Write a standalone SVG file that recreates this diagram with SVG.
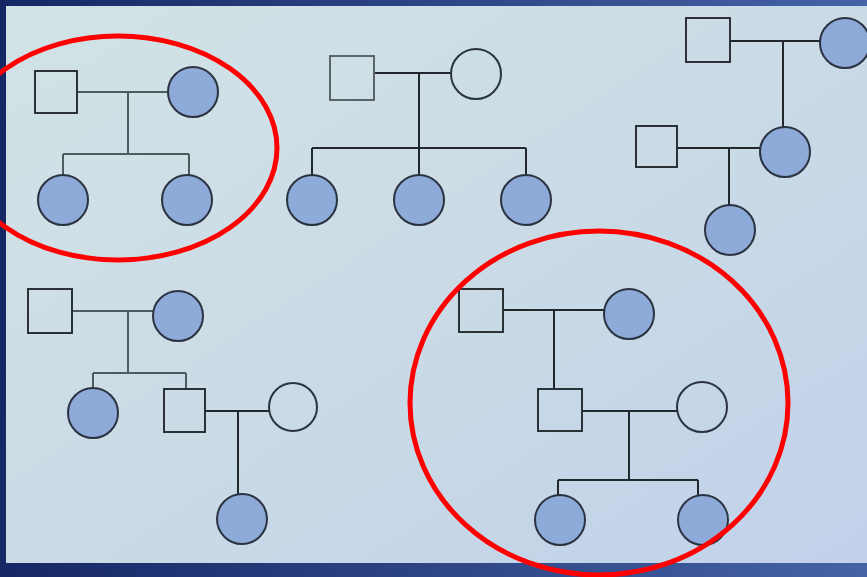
<svg xmlns="http://www.w3.org/2000/svg" width="867" height="577" viewBox="0 0 867 577">
  <defs>
    <linearGradient id="frame" x1="0" y1="0" x2="1" y2="0">
      <stop offset="0" stop-color="#162765"/>
      <stop offset="1" stop-color="#4563a6"/>
    </linearGradient>
    <linearGradient id="bg" x1="0" y1="0" x2="1" y2="1">
      <stop offset="0" stop-color="#d2e3e6"/>
      <stop offset="0.5" stop-color="#cadbe6"/>
      <stop offset="1" stop-color="#c1d1ea"/>
    </linearGradient>
    <style>
      .m{fill:none;stroke:#2a3238;stroke-width:2}
      .g{fill:none;stroke:#5c6668;stroke-width:2}
      .a{fill:#8eaad9;stroke:#2b3340;stroke-width:2}
      .u{fill:none;stroke:#2b3340;stroke-width:2}
      .l{fill:none;stroke:#20282e;stroke-width:2}
      .lg{fill:none;stroke:#4f5a5e;stroke-width:2}
      .r{fill:none;stroke:#ff0000;stroke-width:5}
    </style>
  </defs>
  <rect x="0" y="0" width="867" height="577" fill="url(#frame)"/>
  <rect x="6" y="6" width="861" height="557" fill="url(#bg)"/>

  <g id="connectors">
    <!-- pedigree 1 -->
    <path class="lg" d="M77 92H168M128 92V154M63 154H189M63 154V175M189 154V175"/>
    <!-- pedigree 2 -->
    <path class="l" d="M374 73H451M419 73V148M312 148H526M312 148V175M526 148V175M419 148V175"/>
    <!-- pedigree 3 -->
    <path class="l" d="M730 41H820M783 41V127M677 148H760M729 148V205"/>
    <!-- pedigree 4 -->
    <path class="lg" d="M72 311H153M128 311V373M93 373H186M93 373V388M186 373V389"/>
    <path class="l" d="M205 411H269M238 411V494"/>
    <!-- pedigree 5 -->
    <path class="l" d="M503 310H604M554 310V389M582 411H677M629 411V480M558 480H698M558 480V495M698 480V495"/>
  </g>

  <g id="p1-father"><rect class="m" x="35" y="71" width="42" height="42"/></g>
  <g id="p1-mother"><circle class="a" cx="193" cy="92" r="25"/></g>
  <g id="p1-child1"><circle class="a" cx="63" cy="200" r="25"/></g>
  <g id="p1-child2"><circle class="a" cx="187" cy="200" r="25"/></g>

  <g id="p2-father"><rect class="g" x="330" y="56" width="44" height="44"/></g>
  <g id="p2-mother"><circle class="u" cx="476" cy="74" r="25"/></g>
  <g id="p2-child1"><circle class="a" cx="312" cy="200" r="25"/></g>
  <g id="p2-child2"><circle class="a" cx="419" cy="200" r="25"/></g>
  <g id="p2-child3"><circle class="a" cx="526" cy="200" r="25"/></g>

  <g id="p3-grandfather"><rect class="m" x="686" y="18" width="44" height="44"/></g>
  <g id="p3-grandmother"><circle class="a" cx="845" cy="43" r="25"/></g>
  <g id="p3-father"><rect class="m" x="636" y="126" width="41" height="41"/></g>
  <g id="p3-mother"><circle class="a" cx="785" cy="152" r="25"/></g>
  <g id="p3-child"><circle class="a" cx="730" cy="230" r="25"/></g>

  <g id="p4-grandfather"><rect class="m" x="28" y="289" width="44" height="44"/></g>
  <g id="p4-grandmother"><circle class="a" cx="178" cy="316" r="25"/></g>
  <g id="p4-daughter"><circle class="a" cx="93" cy="413" r="25"/></g>
  <g id="p4-son"><rect class="m" x="164" y="389" width="41" height="43"/></g>
  <g id="p4-wife"><circle class="u" cx="293" cy="407" r="24"/></g>
  <g id="p4-grandchild"><circle class="a" cx="242" cy="519" r="25"/></g>

  <g id="p5-grandfather"><rect class="m" x="459" y="289" width="44" height="43"/></g>
  <g id="p5-grandmother"><circle class="a" cx="629" cy="314" r="25"/></g>
  <g id="p5-son"><rect class="m" x="538" y="389" width="44" height="42"/></g>
  <g id="p5-wife"><circle class="u" cx="702" cy="407" r="25"/></g>
  <g id="p5-child1"><circle class="a" cx="560" cy="520" r="25"/></g>
  <g id="p5-child2"><circle class="a" cx="703" cy="520" r="25"/></g>

  <g id="highlight-1"><ellipse class="r" cx="118" cy="148" rx="159" ry="112"/></g>
  <g id="highlight-2"><ellipse class="r" cx="599" cy="403" rx="189" ry="172"/></g>
</svg>
